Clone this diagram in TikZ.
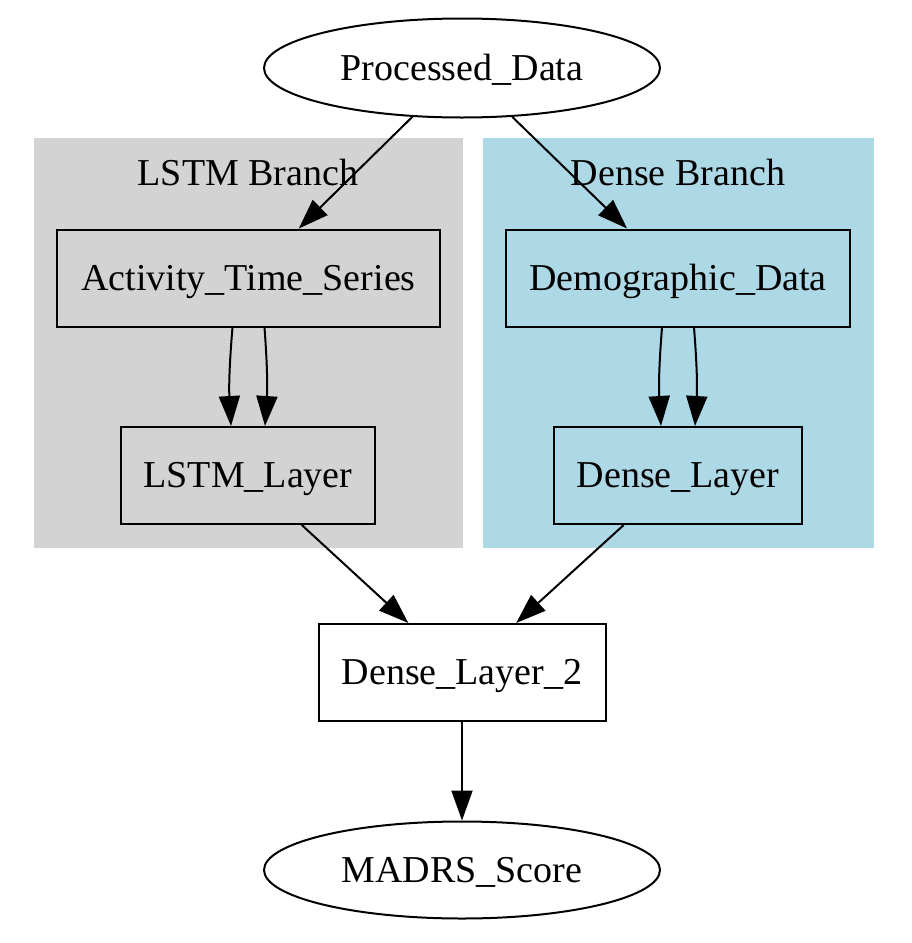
\documentclass[tikz,border=0pt]{standalone}
\usepackage{fontspec}
\setmainfont{Liberation Serif}
\usetikzlibrary{arrows.meta,shapes.geometric}
\definecolor{clgray}{HTML}{D3D3D3}
\definecolor{clblue}{HTML}{ADD8E6}
\begin{document}
\begin{tikzpicture}[x=1pt,y=-1pt,
  every node/.style={font=\fontsize{38}{40}\selectfont, inner sep=0pt, text height=28pt, text depth=4pt},
  boxnode/.style={draw, line width=2pt, rectangle, minimum height=97pt},
  ellnode/.style={draw, line width=2pt, ellipse, minimum width=396pt, minimum height=99pt},
  edge/.style={line width=2pt, -{Triangle[length=30pt,width=21pt]}},
  clustertitle/.style={font=\fontsize{38}{40}\selectfont}
]
\useasboundingbox (0,0) rectangle (911,943);
\fill[clgray] (34,138) rectangle (463,548);
\fill[clblue] (483,138) rectangle (874,548);
\node[clustertitle] (lt) at (248,173) {LSTM Branch};
\node[clustertitle] (dt) at (678,173) {Dense Branch};

\node[ellnode] (pd) at (462,68) {Processed\_Data};
\node[boxnode, minimum width=383pt] (ats) at (248.5,278) {Activity\_Time\_Series};
\node[boxnode, minimum width=254pt] (lstm) at (248,475.5) {LSTM\_Layer};
\node[boxnode, minimum width=344pt] (demo) at (678,278) {Demographic\_Data};
\node[boxnode, minimum width=248pt] (dl) at (678,475.5) {Dense\_Layer};
\node[boxnode, minimum width=287pt, fill=white] (dl2) at (462,672.5) {Dense\_Layer\_2};
\node[ellnode, minimum height=97pt] (madrs) at (462,870) {MADRS\_Score};

\draw[edge] (pd) -- (ats);
\draw[edge] (pd) -- (demo);
\draw[edge] ([xshift=-16pt]ats.south) to[bend right=4] ([xshift=-17pt]lstm.north);
\draw[edge] ([xshift=16pt]ats.south) to[bend left=4] ([xshift=17pt]lstm.north);
\draw[edge] ([xshift=-16pt]demo.south) to[bend right=4] ([xshift=-17pt]dl.north);
\draw[edge] ([xshift=16pt]demo.south) to[bend left=4] ([xshift=17pt]dl.north);
\draw[edge] (lstm) -- (dl2);
\draw[edge] (dl) -- (dl2);
\draw[edge] (dl2) -- (madrs);
\end{tikzpicture}
\end{document}
